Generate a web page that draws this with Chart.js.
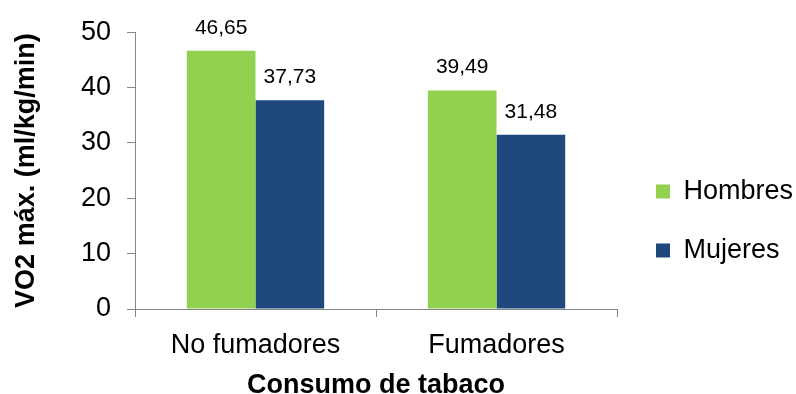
<!DOCTYPE html>
<html>
<head>
<meta charset="utf-8">
<script src="https://cdn.jsdelivr.net/npm/chart.js@4/dist/chart.umd.min.js"></script>
<style>
  html, body { margin: 0; padding: 0; background: #fff; }
</style>
</head>
<body>
<canvas id="vo2Chart" width="796" height="394"></canvas>
<script>
// data
const categories = ['No fumadores', 'Fumadores'];
const hombres = [46.65, 39.49];
const mujeres = [37.73, 31.48];
const seriesNames = ['Hombres', 'Mujeres'];
const yTicks = [0, 10, 20, 30, 40, 50];

const FONT = "'Liberation Sans', Arial, sans-serif";
const axisGrey = '#868686';

// value labels above each bar, comma decimals like the original
const barLabels = {
  id: 'barLabels',
  afterDatasetsDraw(chart) {
    const ctx = chart.ctx;
    ctx.save();
    ctx.font = '21px ' + FONT;
    ctx.fillStyle = '#000';
    ctx.textAlign = 'center';
    ctx.textBaseline = 'middle';
    chart.data.datasets.forEach((ds, i) => {
      chart.getDatasetMeta(i).data.forEach((bar, j) => {
        ctx.fillText(ds.data[j].toFixed(2).replace('.', ','), bar.x, bar.y - 23);
      });
    });
    ctx.restore();
  }
};

// legend sits to the right, a bit away from the plot
const legendSpot = {
  id: 'legendSpot',
  afterInit(chart) {
    const fit = chart.legend.fit;
    chart.legend.fit = function () {
      fit.call(this);
      this.width = 179;
    };
  },
  afterLayout(chart) {
    const lg = chart.legend;
    lg.left = 624;
    lg.top = 146;
  }
};

new Chart(document.getElementById('vo2Chart').getContext('2d'), {
  type: 'bar',
  data: {
    labels: categories,
    datasets: [
      { label: seriesNames[0], data: hombres, backgroundColor: '#92D050' },
      { label: seriesNames[1], data: mujeres, backgroundColor: '#1F497D' }
    ]
  },
  options: {
    responsive: false,
    animation: false,
    layout: { padding: { top: 28, right: 0, left: 0, bottom: 0 } },
    datasets: { bar: { categoryPercentage: 0.57, barPercentage: 1 } },
    scales: {
      x: {
        grid: { display: true, drawOnChartArea: false, offset: true, color: axisGrey, tickLength: 8 },
        border: { color: axisGrey },
        ticks: { color: '#000', font: { family: FONT, size: 27 }, padding: 12 },
        title: {
          display: true, text: 'Consumo de tabaco', color: '#000',
          font: { family: FONT, size: 27, weight: 'bold' },
          padding: { top: 0, bottom: -8 }
        },
        afterFit(s) { s.height = 85; }
      },
      y: {
        min: 0, max: 50,
        afterBuildTicks(s) { s.ticks = yTicks.map(v => ({ value: v })); },
        grid: { display: true, drawOnChartArea: false, color: axisGrey, tickLength: 8 },
        border: { color: axisGrey },
        ticks: { color: '#000', font: { family: FONT, size: 27 }, padding: 16 },
        title: {
          display: true, text: 'VO2 máx. (ml/kg/min)', color: '#000',
          font: { family: FONT, size: 27, weight: 'bold' },
          padding: { top: 10, bottom: 0 }
        },
        afterFit(s) { s.width = 135; }
      }
    },
    plugins: {
      tooltip: { enabled: false },
      legend: {
        position: 'right',
        align: 'start',
        labels: {
          color: '#000',
          font: { family: FONT, size: 27 },
          boxWidth: 14,
          boxHeight: 14,
          padding: 32
        }
      }
    }
  },
  plugins: [barLabels, legendSpot]
});
</script>
</body>
</html>
